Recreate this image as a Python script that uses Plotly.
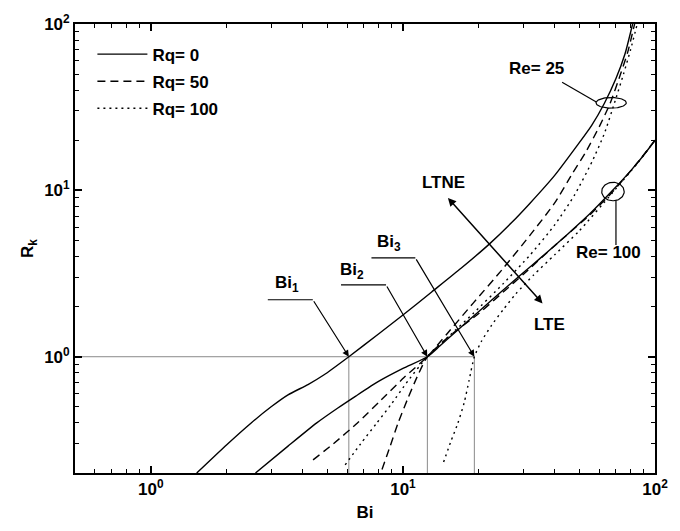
import numpy as np
import plotly.graph_objects as go

# ---------------- data ----------------
# Re = 25
bi_re25_rq0 = [1.52, 2.0, 2.5, 3.0, 3.5, 4.2, 4.85, 6.1, 8.0, 10.0, 13.0, 17.0, 22.0, 27.0, 32.0, 40.0, 49.0, 56.0, 63.0, 70.0, 76.0, 81.5]
rk_re25_rq0 = [0.20, 0.296, 0.40, 0.50, 0.59, 0.68, 0.776, 1.0, 1.37, 1.78, 2.45, 3.4, 4.75, 6.4, 8.4, 12.3, 18.5, 24.5, 33.4, 47.0, 66.0, 100.0]

bi_re25_rq50 = [4.4, 5.3, 6.6, 8.2, 10.1, 12.5, 15.0, 19.0, 25.0, 32.0, 40.0, 47.0, 53.0, 60.0, 66.4, 73.0, 78.0, 83.0]
rk_re25_rq50 = [0.24, 0.30, 0.40, 0.55, 0.75, 1.0, 1.38, 2.1, 3.4, 5.4, 8.4, 12.6, 16.9, 24.0, 33.4, 50.0, 68.0, 100.0]

bi_re25_rq100 = [5.9, 6.8, 7.85, 9.0, 10.5, 12.5, 15.0, 19.0, 25.0, 32.0, 40.0, 48.0, 56.4, 63.0, 69.0, 75.0, 80.0, 85.0]
rk_re25_rq100 = [0.224, 0.30, 0.397, 0.52, 0.72, 1.0, 1.30, 1.82, 2.75, 4.1, 6.2, 9.4, 15.0, 22.0, 33.4, 50.0, 70.0, 100.0]

# Re = 100
bi_re100_rq0 = [2.6, 3.5, 4.55, 5.5, 6.5, 8.0, 10.0, 12.5, 14.0, 16.0, 20.0, 25.0, 30.0, 35.0, 45.0, 55.0, 67.5, 80.0, 90.0, 100.0]
rk_re100_rq0 = [0.20, 0.29, 0.40, 0.49, 0.58, 0.71, 0.85, 1.0, 1.16, 1.39, 1.87, 2.52, 3.2, 3.9, 5.45, 7.2, 9.9, 13.1, 16.2, 20.0]

bi_re100_rq50 = [8.26, 8.9, 9.55, 10.4, 11.4, 12.5, 15.0, 20.0, 25.0, 30.0, 40.0, 55.0, 67.5, 85.0, 100.0]
rk_re100_rq50 = [0.21, 0.29, 0.397, 0.55, 0.76, 1.0, 1.30, 1.82, 2.45, 3.12, 4.65, 7.1, 9.7, 14.6, 20.0]

bi_re100_rq100 = [14.5, 15.5, 16.5, 17.5, 18.3, 19.2, 20.5, 22.5, 25.0, 28.0, 33.0, 40.0, 50.0, 67.5, 85.0, 100.0]
rk_re100_rq100 = [0.233, 0.31, 0.397, 0.53, 0.72, 1.0, 1.24, 1.55, 1.92, 2.38, 3.1, 4.1, 5.7, 9.6, 14.5, 20.0]

# characteristic Biot numbers where Rk = 1
bi_marks = [6.1, 12.5, 19.2]
bi_mark_labels = ["Bi<sub>1</sub>", "Bi<sub>2</sub>", "Bi<sub>3</sub>"]
rk_ref = 1.0

x_ticks = [1, 10, 100]
y_ticks = [1, 10, 100]
tick_text = ["10<sup>0</sup>", "10<sup>1</sup>", "10<sup>2</sup>"]

x_range = [0.5, 100]
y_range = [0.2, 100]

# ---------------- figure ----------------
FONT = "Liberation Sans, Arial, Helvetica, sans-serif"
DASH = "8px,5px"
DOT = "2px,4px"

fig = go.Figure()

# thin guide lines
fig.add_trace(go.Scatter(x=[x_range[0], bi_marks[2]], y=[rk_ref, rk_ref], mode="lines",
                         line=dict(color="#8a8a8a", width=1), showlegend=False, hoverinfo="skip"))
for b in bi_marks:
    fig.add_trace(go.Scatter(x=[b, b], y=[y_range[0], rk_ref], mode="lines",
                             line=dict(color="#8a8a8a", width=1), showlegend=False, hoverinfo="skip"))

curves = [
    (bi_re25_rq0, rk_re25_rq0, "solid", "Rq= 0", True, "g0"),
    (bi_re25_rq50, rk_re25_rq50, DASH, "Rq= 50", True, "g1"),
    (bi_re25_rq100, rk_re25_rq100, DOT, "Rq= 100", True, "g2"),
    (bi_re100_rq0, rk_re100_rq0, "solid", "Rq= 0", False, "g0"),
    (bi_re100_rq50, rk_re100_rq50, DASH, "Rq= 50", False, "g1"),
    (bi_re100_rq100, rk_re100_rq100, DOT, "Rq= 100", False, "g2"),
]
for x, y, dash, name, show, grp in curves:
    fig.add_trace(go.Scatter(x=x, y=y, mode="lines", name=name, showlegend=show, legendgroup=grp,
                             line=dict(color="black", width=1.4, dash=dash, shape="spline", smoothing=0.6)))

L = np.log10

# Bi leader lines (horizontal part) in data space
leaders = [((2.91, 4.39), 2.20), ((5.68, 8.57), 2.70), ((7.50, 11.2), 3.93)]
label_pos = [(3.48, 2.73), (6.27, 3.26), (8.80, 4.82)]
for (xs, yv), b, lab, (lx, ly) in zip(leaders, bi_marks, bi_mark_labels, label_pos):
    fig.add_trace(go.Scatter(x=list(xs), y=[yv, yv], mode="lines", line=dict(color="black", width=1.2),
                             showlegend=False, hoverinfo="skip"))
    fig.add_annotation(x=L(b), y=L(rk_ref), ax=L(xs[1]), ay=L(yv), axref="x", ayref="y",
                       xref="x", yref="y", text="", showarrow=True, arrowhead=2, arrowsize=1.1,
                       arrowwidth=1.2, arrowcolor="black", standoff=0)
    fig.add_annotation(x=L(lx), y=L(ly), xref="x", yref="y", text="<b>" + lab + "</b>", showarrow=False,
                       font=dict(family=FONT, size=17, color="black"))

# LTNE / LTE double arrow
fig.add_annotation(x=L(35.8), y=L(2.09), ax=L(14.9), ay=L(9.20), axref="x", ayref="y", xref="x", yref="y",
                   text="", showarrow=True, arrowhead=2, startarrowhead=2, arrowside="end+start",
                   arrowsize=1.1, startarrowsize=1.1, arrowwidth=1.5, arrowcolor="black", standoff=0, startstandoff=0)
fig.add_annotation(x=L(14.5), y=L(11.1), xref="x", yref="y", text="<b>LTNE</b>", showarrow=False,
                   font=dict(family=FONT, size=17, color="black"))
fig.add_annotation(x=L(38.1), y=L(1.57), xref="x", yref="y", text="<b>LTE</b>", showarrow=False,
                   font=dict(family=FONT, size=17, color="black"))

# Re labels with ellipses
t = np.linspace(0, 2 * np.pi, 80)
for cx, cy, rx, ry in [(67.0, 33.6, 0.060, 0.032), (68.1, 9.84, 0.0446, 0.0556)]:
    fig.add_trace(go.Scatter(x=10 ** (L(cx) + rx * np.cos(t)), y=10 ** (L(cy) + ry * np.sin(t)), mode="lines",
                             line=dict(color="black", width=1.2), showlegend=False, hoverinfo="skip"))
fig.add_trace(go.Scatter(x=[42.8, 58.5], y=[44.6, 34.0], mode="lines", line=dict(color="black", width=1.2),
                         showlegend=False, hoverinfo="skip"))
fig.add_trace(go.Scatter(x=[70.0, 70.0], y=[8.71, 4.69], mode="lines", line=dict(color="black", width=1.2),
                         showlegend=False, hoverinfo="skip"))
fig.add_annotation(x=L(33.9), y=L(53.8), xref="x", yref="y", text="<b>Re= 25</b>", showarrow=False,
                   font=dict(family=FONT, size=17, color="black"))
fig.add_annotation(x=L(65.2), y=L(4.21), xref="x", yref="y", text="<b>Re= 100</b>", showarrow=False,
                   font=dict(family=FONT, size=17, color="black"))

axis_common = dict(
    type="log", showgrid=False, zeroline=False, showline=True, linecolor="black", linewidth=1.8,
    mirror="allticks", ticks="inside", ticklen=7, tickwidth=1.5, tickcolor="black",
    tickfont=dict(family=FONT, size=17, color="black", weight="bold"),
    minor=dict(ticks="inside", ticklen=4, tickwidth=1.2, tickcolor="black", dtick="D1", showgrid=False),
)
fig.update_xaxes(**axis_common, range=[L(x_range[0]), L(x_range[1])], tickvals=x_ticks, ticktext=tick_text,
                 title=dict(text="<b>Bi</b>", font=dict(family=FONT, size=17, color="black"), standoff=8))
fig.update_yaxes(**axis_common, range=[L(y_range[0]), L(y_range[1])], tickvals=y_ticks, ticktext=tick_text,
                 title=dict(text="<b>R<sub>k</sub></b>", font=dict(family=FONT, size=17, color="black"), standoff=6))

fig.update_layout(
    width=680, height=531, margin=dict(l=75, r=12, t=18, b=52),
    plot_bgcolor="white", paper_bgcolor="white",
    legend=dict(x=0.03, y=0.972, xanchor="left", yanchor="top", bgcolor="rgba(0,0,0,0)",
                font=dict(family=FONT, size=17, color="black", weight="bold"),
                traceorder="grouped", tracegroupgap=2, itemwidth=50),
    font=dict(family=FONT, color="black"),
)

fig.write_html("out.html")
